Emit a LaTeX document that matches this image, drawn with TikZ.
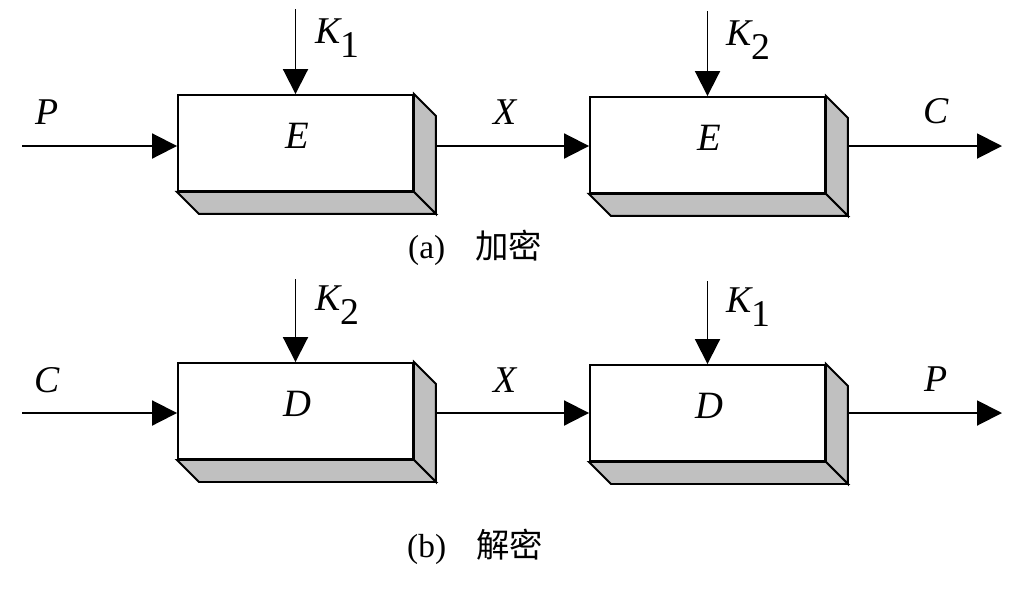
\documentclass[tikz,border=0pt]{standalone}
\usepackage{fontspec}
\setmainfont{Liberation Serif}
\newfontfamily\cjk{Noto Sans CJK SC}
\usetikzlibrary{arrows.meta}

\definecolor{silver}{RGB}{192,192,192}
\newcommand{\keylbl}[2]{\textit{#1}\raisebox{-8pt}{\upshape #2}}

\begin{document}
\begin{tikzpicture}[x=0.02cm,y=-0.02cm]

	\tikzstyle block=[draw,line width=1.1pt,fill=white,minimum width=4.7cm,minimum height=1.92cm,inner sep=0pt];
	\tikzstyle boxface=[draw,line width=1.1pt,fill=silver];
	\tikzstyle flow=[line width=1.1pt,-{Triangle[length=0.5cm,width=0.5cm]}];
	\tikzstyle port=[inner sep=0pt,font=\fontsize{21.5}{21.5}\selectfont\itshape];
	\tikzstyle func=[inner sep=0pt,font=\fontsize{22}{22}\selectfont\itshape];
	\tikzstyle caption=[inner sep=0pt,font=\fontsize{19}{19}\selectfont];

	\useasboundingbox (0,0) rectangle (1024,596);

	% (a) encryption
	\node[block] (ea) at (295.5,143) {};
	\node[block] (eb) at (707.5,145) {};
	\node[func] (ea txt) at (297,136) {E};
	\node[func] (eb txt) at (709,138) {E};

	% (b) decryption
	\node[block] (da) at (295.5,411) {};
	\node[block] (db) at (707.5,413) {};
	\node[func] (da txt) at (297,404) {D};
	\node[func] (db txt) at (709,406) {D};

	% shadow faces
	\foreach \b in {ea,eb,da,db}{
		\draw[boxface] (\b.north east) -- ([shift={(22,22)}]\b.north east) -- ([shift={(22,22)}]\b.south east) -- (\b.south east) -- cycle;
		\draw[boxface] (\b.south west) -- ([shift={(22,22)}]\b.south west) -- ([shift={(22,22)}]\b.south east) -- (\b.south east) -- cycle;
	}

	% free ends
	\coordinate (pin) at (22,146);
	\coordinate (cout) at (1002,146);
	\coordinate (cin) at (22,413);
	\coordinate (pout) at (1002,413);
	\coordinate (k1a) at ([shift={(0,-85)}]ea.north);
	\coordinate (k2a) at ([shift={(0,-85)}]eb.north);
	\coordinate (k2b) at ([shift={(0,-83)}]da.north);
	\coordinate (k1b) at ([shift={(0,-83)}]db.north);

	\draw[flow] (pin) -- (pin -| ea.west);
	\draw[flow] ([shift={(22,0)}]ea.east |- pin) -- (pin -| eb.west);
	\draw[flow] ([shift={(22,0)}]eb.east |- pin) -- (cout);
	\draw[flow] (k1a) -- (ea.north);
	\draw[flow] (k2a) -- (eb.north);

	\draw[flow] (cin) -- (cin -| da.west);
	\draw[flow] ([shift={(22,0)}]da.east |- cin) -- (cin -| db.west);
	\draw[flow] ([shift={(22,0)}]db.east |- cin) -- (pout);
	\draw[flow] (k2b) -- (da.north);
	\draw[flow] (k1b) -- (db.north);

	% labels
	\node[port] (p lbl) at (47,112) {P};
	\node[port] (x lbl) at (505,112) {X};
	\node[port] (c lbl) at (936,111) {C};
	\node[port,anchor=base west] (k1a lbl) at (315,43) {\keylbl{K}{1}};
	\node[port,anchor=base west] (k2a lbl) at (726,45) {\keylbl{K}{2}};

	\node[port] (c lbl b) at (47,380) {C};
	\node[port] (x lbl b) at (505,380) {X};
	\node[port] (p lbl b) at (936,379) {P};
	\node[port,anchor=base west] (k2b lbl) at (315,310) {\keylbl{K}{2}};
	\node[port,anchor=base west] (k1b lbl) at (726,312) {\keylbl{K}{1}};

	\node[caption] (cap a) at (475,248) {(a)\hspace{17pt}{\cjk 加密}};
	\node[caption] (cap b) at (475,547) {(b)\hspace{17pt}{\cjk 解密}};

\end{tikzpicture}
\end{document}
